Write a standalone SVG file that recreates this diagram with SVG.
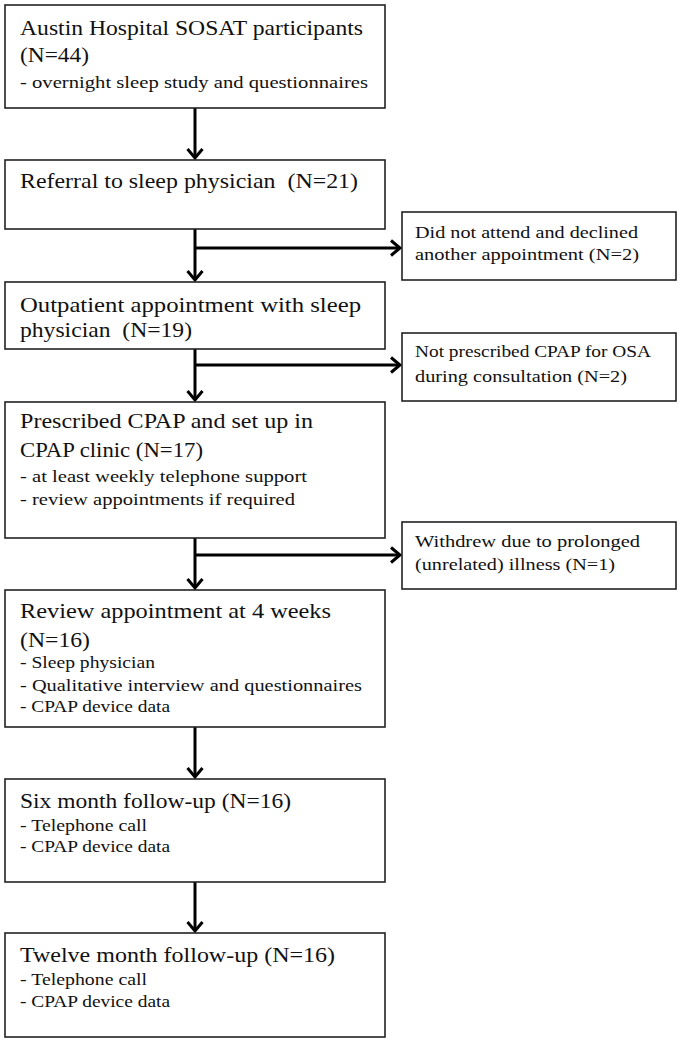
<svg xmlns="http://www.w3.org/2000/svg" width="685" height="1042" viewBox="0 0 685 1042">
<style>
.box{fill:#fff;stroke:#222;stroke-width:1.6}
.t{font-family:"Liberation Serif","DejaVu Serif",serif;font-size:22px;fill:#111}
.s{font-family:"Liberation Serif","DejaVu Serif",serif;font-size:17px;fill:#111}
.c{fill:none;stroke:#000;stroke-width:3}
</style>
<defs>
<marker id="ah" markerUnits="userSpaceOnUse" markerWidth="20" markerHeight="20" viewBox="-12 -10 14 20" refX="0" refY="0" orient="auto">
<path d="M-9,-7.5 L0,0 L-9,7.5" fill="none" stroke="#000" stroke-width="3"/>
</marker>
</defs>
<rect width="685" height="1042" fill="#fff"/>
<g id="connectors">
<line class="c" x1="195" y1="108" x2="195" y2="158" marker-end="url(#ah)"/>
<line class="c" x1="195" y1="229" x2="195" y2="280" marker-end="url(#ah)"/>
<line class="c" x1="195" y1="248" x2="400" y2="248" marker-end="url(#ah)"/>
<line class="c" x1="195" y1="349" x2="195" y2="400" marker-end="url(#ah)"/>
<line class="c" x1="195" y1="365" x2="400" y2="365" marker-end="url(#ah)"/>
<line class="c" x1="195" y1="538" x2="195" y2="588" marker-end="url(#ah)"/>
<line class="c" x1="195" y1="555" x2="400" y2="555" marker-end="url(#ah)"/>
<line class="c" x1="195" y1="727" x2="195" y2="777" marker-end="url(#ah)"/>
<line class="c" x1="195" y1="882" x2="195" y2="931" marker-end="url(#ah)"/>
</g>
<g id="n1">
<rect class="box" x="5" y="5" width="380" height="103"/>
<text class="t" x="20" y="35" textLength="343" lengthAdjust="spacingAndGlyphs">Austin Hospital SOSAT participants</text>
<text class="t" x="20" y="62" textLength="69" lengthAdjust="spacingAndGlyphs">(N=44)</text>
<text class="s" x="20" y="88" textLength="348" lengthAdjust="spacingAndGlyphs">- overnight sleep study and questionnaires</text>
</g>
<g id="n2">
<rect class="box" x="5" y="160" width="380" height="69"/>
<text class="t" x="20" y="188" textLength="338" lengthAdjust="spacingAndGlyphs" xml:space="preserve">Referral to sleep physician  (N=21)</text>
</g>
<g id="n3">
<rect class="box" x="5" y="282" width="380" height="67"/>
<text class="t" x="20" y="312" textLength="341" lengthAdjust="spacingAndGlyphs">Outpatient appointment with sleep</text>
<text class="t" x="20" y="337" textLength="172" lengthAdjust="spacingAndGlyphs" xml:space="preserve">physician  (N=19)</text>
</g>
<g id="n4">
<rect class="box" x="5" y="402" width="380" height="136"/>
<text class="t" x="20" y="428" textLength="293" lengthAdjust="spacingAndGlyphs">Prescribed CPAP and set up in</text>
<text class="t" x="20" y="457" textLength="183" lengthAdjust="spacingAndGlyphs">CPAP clinic (N=17)</text>
<text class="s" x="20" y="482" textLength="287" lengthAdjust="spacingAndGlyphs">- at least weekly telephone support</text>
<text class="s" x="20" y="505" textLength="275" lengthAdjust="spacingAndGlyphs">- review appointments if required</text>
</g>
<g id="n5">
<rect class="box" x="5" y="590" width="380" height="137"/>
<text class="t" x="20" y="618" textLength="311" lengthAdjust="spacingAndGlyphs">Review appointment at 4 weeks</text>
<text class="t" x="20" y="647" textLength="70" lengthAdjust="spacingAndGlyphs">(N=16)</text>
<text class="s" x="20" y="668" textLength="135" lengthAdjust="spacingAndGlyphs">- Sleep physician</text>
<text class="s" x="20" y="691" textLength="342" lengthAdjust="spacingAndGlyphs">- Qualitative interview and questionnaires</text>
<text class="s" x="20" y="712" textLength="150" lengthAdjust="spacingAndGlyphs">- CPAP device data</text>
</g>
<g id="n6">
<rect class="box" x="5" y="779" width="380" height="103"/>
<text class="t" x="20" y="808" textLength="271" lengthAdjust="spacingAndGlyphs">Six month follow-up (N=16)</text>
<text class="s" x="20" y="831" textLength="127" lengthAdjust="spacingAndGlyphs">- Telephone call</text>
<text class="s" x="20" y="852" textLength="150" lengthAdjust="spacingAndGlyphs">- CPAP device data</text>
</g>
<g id="n7">
<rect class="box" x="5" y="933" width="380" height="104"/>
<text class="t" x="20" y="962" textLength="315" lengthAdjust="spacingAndGlyphs">Twelve month follow-up (N=16)</text>
<text class="s" x="20" y="985" textLength="127" lengthAdjust="spacingAndGlyphs">- Telephone call</text>
<text class="s" x="20" y="1007" textLength="150" lengthAdjust="spacingAndGlyphs">- CPAP device data</text>
</g>
<g id="s1">
<rect class="box" x="402" y="212" width="274" height="68"/>
<text class="s" x="415" y="238" textLength="223" lengthAdjust="spacingAndGlyphs">Did not attend and declined</text>
<text class="s" x="415" y="260" textLength="224" lengthAdjust="spacingAndGlyphs">another appointment (N=2)</text>
</g>
<g id="s2">
<rect class="box" x="402" y="333" width="274" height="68"/>
<text class="s" x="415" y="357" textLength="236" lengthAdjust="spacingAndGlyphs">Not prescribed CPAP for OSA</text>
<text class="s" x="415" y="382" textLength="212" lengthAdjust="spacingAndGlyphs">during consultation (N=2)</text>
</g>
<g id="s3">
<rect class="box" x="402" y="522" width="274" height="67"/>
<text class="s" x="415" y="547" textLength="225" lengthAdjust="spacingAndGlyphs">Withdrew due to prolonged</text>
<text class="s" x="415" y="570" textLength="200" lengthAdjust="spacingAndGlyphs">(unrelated) illness (N=1)</text>
</g>
</svg>
